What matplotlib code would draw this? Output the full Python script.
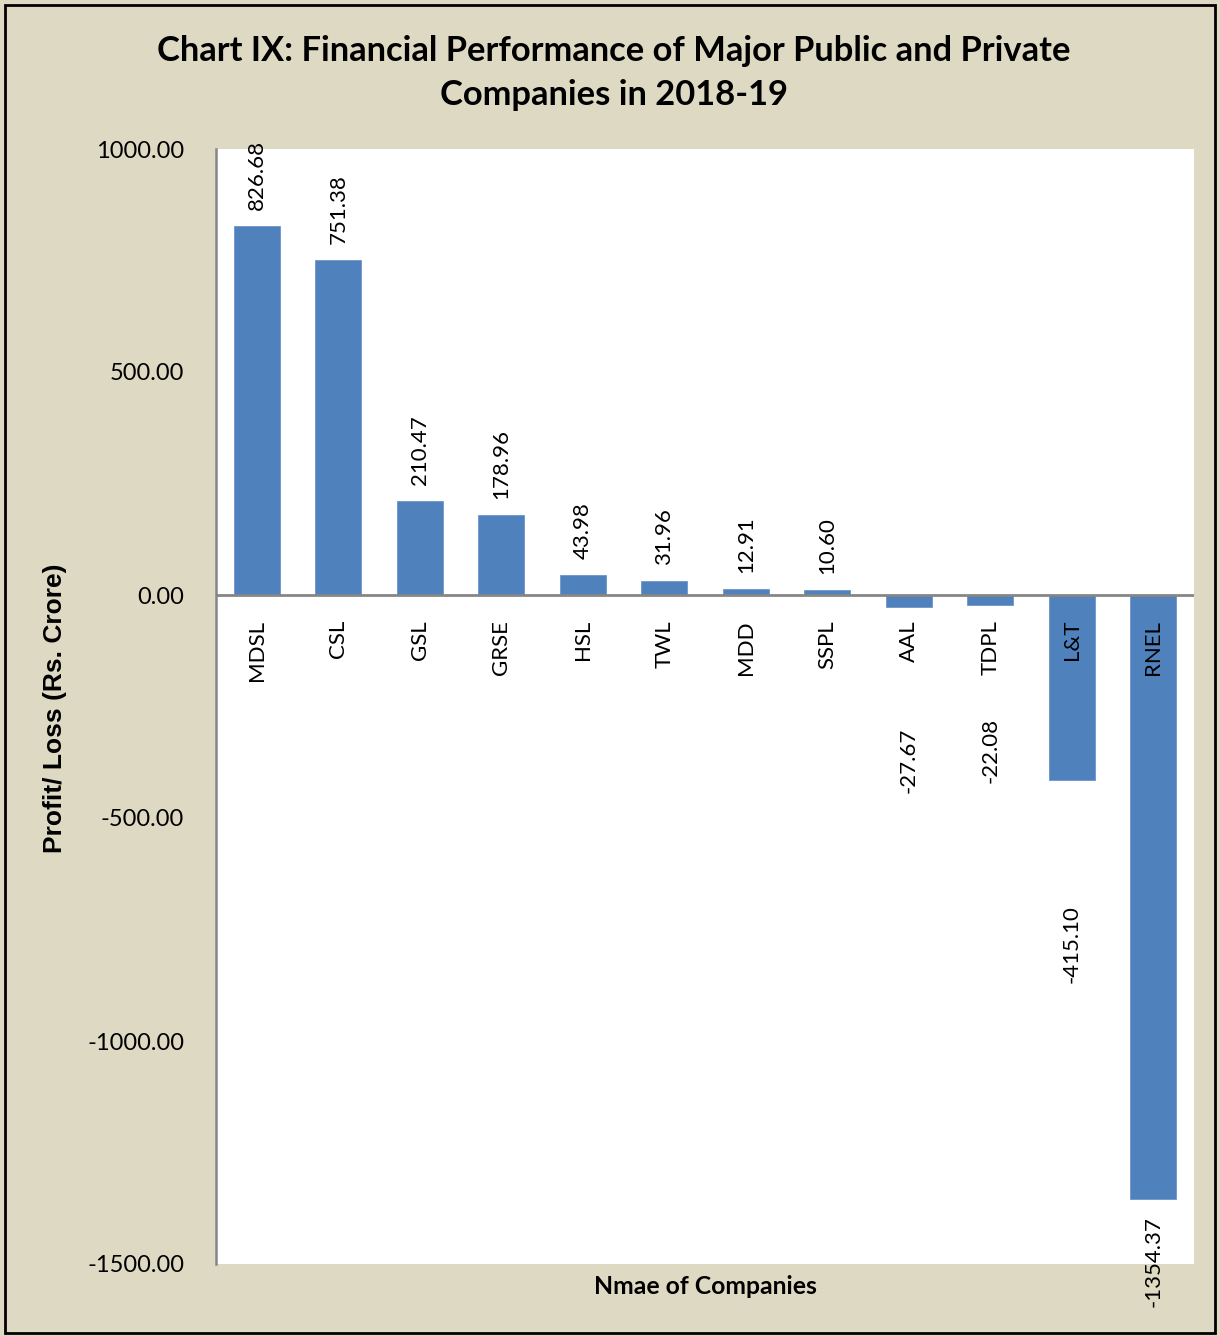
import matplotlib.pyplot as plt
from matplotlib.patches import Rectangle

companies = ["MDSL", "CSL", "GSL", "GRSE", "HSL", "TWL", "MDD", "SSPL",
             "AAL", "TDPL", "L&T", "RNEL"]
profit = [826.68, 751.38, 210.47, 178.96, 43.98, 31.96, 12.91, 10.60,
          -27.67, -22.08, -415.10, -1354.37]
y_ticks = [1000, 500, 0, -500, -1000, -1500]

# label gap below negative bars (pixels), labels were moved by hand in the original
neg_gap = {"AAL": 120, "TDPL": 113, "L&T": 125, "RNEL": 17}

BG = "#DDD9C3"
BAR = "#4F81BD"
FONT = "Lato"

fig = plt.figure(figsize=(12.2, 13.36), dpi=100, facecolor=BG)
ax = fig.add_axes([216 / 1220, 1 - 1264 / 1336, (1194 - 216) / 1220, (1264 - 149) / 1336])
ax.set_facecolor("white")

x = list(range(len(companies)))
ax.bar(x, profit, width=0.57, color=BAR, edgecolor="#6F96C8", linewidth=0.6, zorder=2)
ax.axhline(0, color="#868686", linewidth=2, zorder=3)

ax.set_xlim(-0.5, len(companies) - 0.5)
ax.set_ylim(-1500, 1000)
ax.set_yticks(y_ticks)
ax.set_yticklabels([f"{v:.2f}" for v in y_ticks], fontsize=17, family=FONT)
ax.tick_params(axis="y", length=0, pad=23)
ax.set_xticks([])

for s in ["top", "right", "bottom"]:
    ax.spines[s].set_visible(False)
ax.spines["left"].set_color("#868686")
ax.spines["left"].set_linewidth(1.8)

px = 0.72  # pixel -> points
for i, (name, v) in enumerate(zip(companies, profit)):
    ax.annotate(name, (i, 0), xytext=(0, -25 * px), textcoords="offset points",
                rotation=90, ha="center", va="top", fontsize=16, family=FONT, zorder=4)
    if v >= 0:
        ax.annotate(f"{v:.2f}", (i, v), xytext=(0, 16 * px), textcoords="offset points",
                    rotation=90, ha="center", va="bottom", fontsize=16, family=FONT,
                    annotation_clip=False)
    else:
        ax.annotate(f"{v:.2f}", (i, v), xytext=(0, -neg_gap[name] * px),
                    textcoords="offset points", rotation=90, ha="center", va="top",
                    fontsize=16, family=FONT, annotation_clip=False)

fig.text(0.503, 1 - 73 / 1336, "Chart IX: Financial Performance of Major Public and Private\nCompanies in 2018-19",
         ha="center", va="center", fontsize=24.8, fontweight="bold", family=FONT, linespacing=1.45)
fig.text(705 / 1220, 1 - 1286 / 1336, "Nmae of Companies", ha="center", va="center",
         fontsize=17.8, fontweight="bold", family=FONT)
fig.text(55 / 1220, 1 - 708 / 1336, "Profit/ Loss (Rs. Crore)", ha="center", va="center",
         rotation=90, fontsize=19, fontweight="bold", family="Liberation Sans")

fig.patches.append(Rectangle((5 / 1220, 3 / 1336), 1210 / 1220, 1328 / 1336,
                             transform=fig.transFigure, fill=False, edgecolor="black",
                             linewidth=2))

fig.savefig("out.png", dpi=100, facecolor=BG)
